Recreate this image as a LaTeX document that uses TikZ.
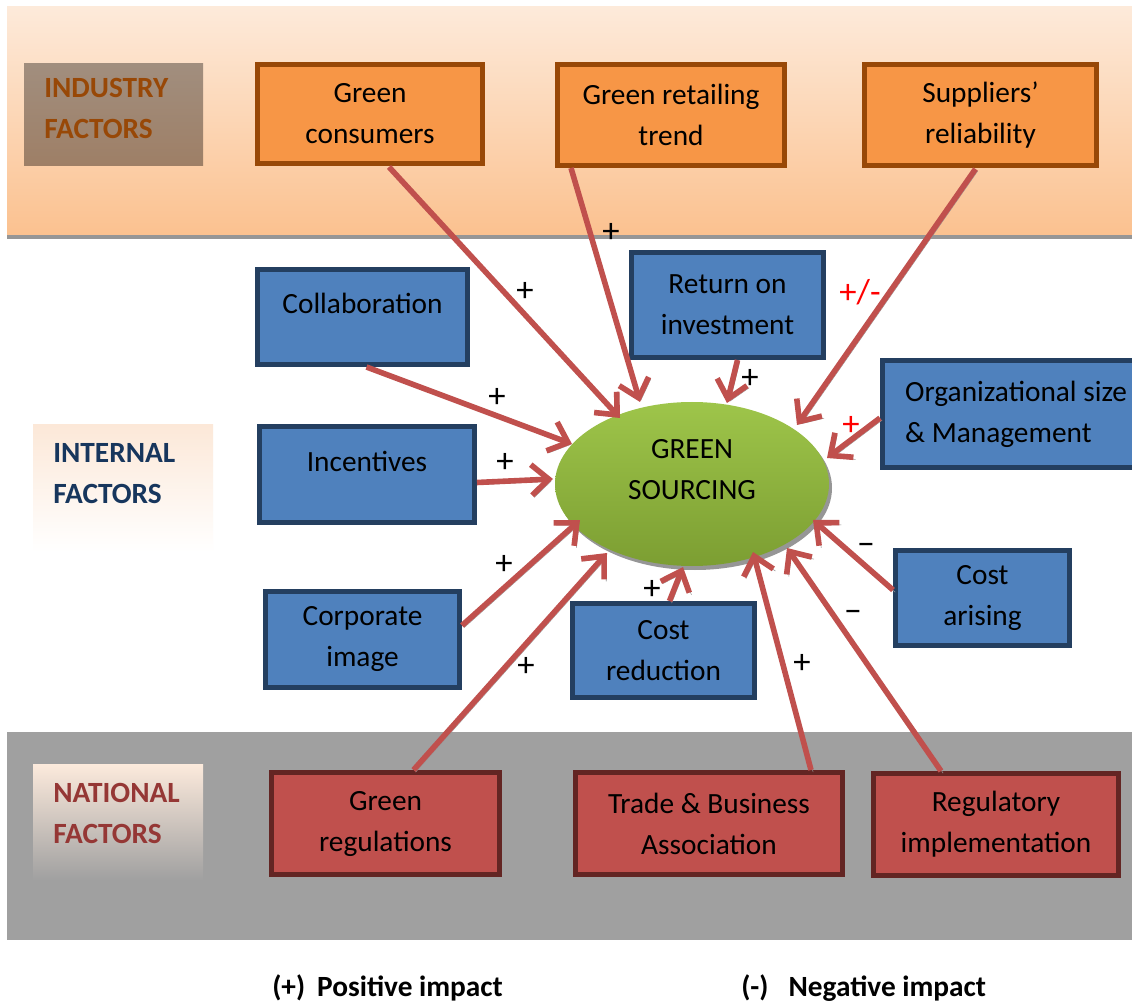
\documentclass[tikz,border=0pt]{standalone}
\usepackage{fontspec}
\setmainfont{Carlito}
\usetikzlibrary{arrows.meta,shapes.geometric,calc}
\definecolor{bandtop}{RGB}{253,234,218}
\definecolor{bandbot}{RGB}{251,193,143}
\definecolor{ofill}{RGB}{247,150,70}
\definecolor{odraw}{RGB}{152,72,7}
\definecolor{bfill}{RGB}{79,129,189}
\definecolor{bdraw}{RGB}{36,63,96}
\definecolor{rfill}{RGB}{192,80,77}
\definecolor{rdraw}{RGB}{99,37,35}
\definecolor{natband}{RGB}{160,160,160}
\definecolor{arrowred}{RGB}{192,80,77}
\definecolor{indtxt}{RGB}{152,72,7}
\definecolor{inttxt}{RGB}{23,54,93}
\definecolor{nattxt}{RGB}{149,55,53}
\definecolor{gtop}{RGB}{158,197,74}
\definecolor{gbot}{RGB}{124,158,50}
\definecolor{shadowgray}{RGB}{150,150,150}
\definecolor{indtop}{RGB}{161,142,126}
\definecolor{indbot}{RGB}{158,127,102}
\definecolor{inttop}{RGB}{252,232,216}
\definecolor{nattop}{RGB}{252,234,220}
\definecolor{signred}{RGB}{255,0,0}
\begin{document}
\begin{tikzpicture}[x=0.75pt,y=-0.75pt,
  every node/.style={font=\fontsize{22}{30.75}\selectfont},
  box/.style={rectangle, line width=3.75pt, align=center, inner sep=0pt},
  obox/.style={box, fill=ofill, draw=odraw},
  bbox/.style={box, fill=bfill, draw=bdraw},
  rbox/.style={box, fill=rfill, draw=rdraw},
  catbox/.style={rectangle, inner sep=0pt},
  catlabel/.style={anchor=west, align=left, inner sep=0pt, font=\fontsize{22}{30.75}\selectfont\bfseries},
  sign/.style={inner sep=0pt, font=\fontsize{26}{30}\selectfont},
  legend/.style={anchor=west, inner sep=0pt, font=\fontsize{22}{26}\selectfont\bfseries},
  imp/.style={draw=arrowred, line width=4.2pt, -{Straight Barb[length=13pt,width=23pt]},
     preaction={draw=shadowgray, transform canvas={shift={(1.6pt,-1.6pt)}}}},
]
\useasboundingbox (0,0) rectangle (1132,1005);
\fill[white] (0,0) rectangle (1132,1005);

% bands
\fill[top color=bandtop, bottom color=bandbot] (7,7) rectangle (1132,236);
\fill[shadowgray] (7,235) rectangle (1132,239);
\fill[natband] (7,732) rectangle (1132,940);

% category boxes
\node[catbox, top color=indtop, bottom color=indbot, minimum width=134.25pt, minimum height=76.5pt] (indbox) at (113.5,115) {};
\node[catlabel, text=indtxt] (indlbl) at (44,108) {INDUSTRY\\FACTORS};
\node[catbox, top color=inttop, bottom color=white, minimum width=135pt, minimum height=95.25pt] (intbox) at (123,488.5) {};
\node[catlabel, text=inttxt] (intlbl) at (53,474) {INTERNAL\\FACTORS};
\node[catbox, top color=nattop, bottom color=natband, minimum width=127.5pt, minimum height=87pt] (natbox) at (118,822) {};
\node[catlabel, text=nattxt] (natlbl) at (53,813.5) {NATIONAL\\FACTORS};

% industry factors
\node[obox, minimum width=168.75pt, minimum height=74.25pt] (gc) at (370,114) {Green\\consumers};
\node[obox, minimum width=170.25pt, minimum height=75.75pt] (grt) at (671,115) {Green retailing\\trend};
\node[obox, minimum width=174pt, minimum height=75.75pt] (sr) at (980.5,115) {Suppliers’\\reliability};

% internal factors
\node[bbox, minimum width=157.5pt, minimum height=71.25pt, text depth=21pt] (col) at (362.5,317) {Collaboration};
\node[bbox, minimum width=144pt, minimum height=78.75pt] (roi) at (727.5,305) {Return on\\investment};
\node[bbox, anchor=west, align=left, inner xsep=17pt, minimum height=80.25pt, minimum width=200pt] (org) at (880,414) {Organizational size\\\& Management};
\node[bbox, minimum width=161.25pt, minimum height=72pt, text depth=20pt] (inc) at (367,474.5) {Incentives};
\node[bbox, minimum width=145.5pt, minimum height=72pt] (ci) at (362.5,639.5) {Corporate\\image};
\node[bbox, minimum width=136.5pt, minimum height=70.5pt] (cr) at (663.5,650.5) {Cost\\reduction};
\node[bbox, minimum width=130.5pt, minimum height=71.25pt] (ca) at (982.5,598) {Cost\\arising};

% national factors
\node[rbox, minimum width=171pt, minimum height=76.5pt] (greg) at (385.5,823.5) {Green\\regulations};
\node[rbox, minimum width=200.25pt, minimum height=76.5pt] (tba) at (709,823.5) {Trade \& Business\\Association};
\node[rbox, minimum width=183.75pt, minimum height=76.5pt] (ri) at (996,824.5) {Regulatory\\implementation};

% central ellipse
\fill[shadowgray] (695,488) ellipse [x radius=102.75pt, y radius=61.5pt];
\node[ellipse, inner sep=0pt, minimum width=205.5pt, minimum height=123pt, top color=gtop, bottom color=gbot] (gs) at (692,484) {};
\node[align=center, inner sep=0pt] (gst) at (692,470) {GREEN\\SOURCING};

% connectors
\draw[imp] ($(gc.south)+(19,1)$) -- ($(gs.center)+(-72,-66)$);
\draw[imp] ($(grt.south)+(-100,0)$) -- ($(gs.center)+(-52,-82)$);
\draw[imp] ($(sr.south)+(-5,1)$) -- ($(gs.center)+(105,-59)$);
\draw[imp] ($(col.south)+(4,0)$) -- ($(gs.center)+(-120,-40)$);
\draw[imp] ($(roi.south)+(10,0)$) -- ($(gs.center)+(35,-81)$);
\draw[imp] ($(org.west)+(0,4)$) -- ($(gs.center)+(135,-26)$);
\draw[imp] ($(inc.east)+(0,8)$) -- ($(gs.center)+(-139,-5)$);
\draw[imp] ($(ci.east)+(0,-14)$) -- ($(gs.center)+(-112,36)$);
\draw[imp] ($(greg.north)+(28,0)$) -- ($(gs.center)+(-85,69)$);
\draw[imp] ($(cr.north)+(6,0)$) -- ($(gs.center)+(-9,83)$);
\draw[imp] ($(tba.north)+(102,0)$) -- ($(gs.center)+(61,68)$);
\draw[imp] ($(ri.north)+(-55,0)$) -- ($(gs.center)+(95,64)$);
\draw[imp] ($(ca.west)+(0,-8)$) -- ($(gs.center)+(121,36)$);

% signs
\node[sign] (s1) at (525,292) {+};
\node[sign] (s2) at (611,233) {+};
\node[sign, text=signred] (s3) at (860,292) {+/-};
\node[sign] (s4) at (497,398) {+};
\node[sign] (s5) at (750,379) {+};
\node[sign, text=signred] (s6) at (851,426) {+};
\node[sign] (s7) at (505,463) {+};
\node[sign] (s8) at (504,565) {+};
\node[sign] (s9) at (526,667) {+};
\node[sign] (s10) at (652,590) {+};
\node[sign] (s11) at (802,664) {+};
\node[sign] (s12) at (853,616) {−};
\node[sign] (s13) at (866,549) {−};

% legend
\node[legend] (legp) at (272,988) {(+)\hspace{9pt}Positive impact};
\node[legend] (legn) at (741,988) {(-)\hspace{15pt}Negative impact};
\end{tikzpicture}
\end{document}
